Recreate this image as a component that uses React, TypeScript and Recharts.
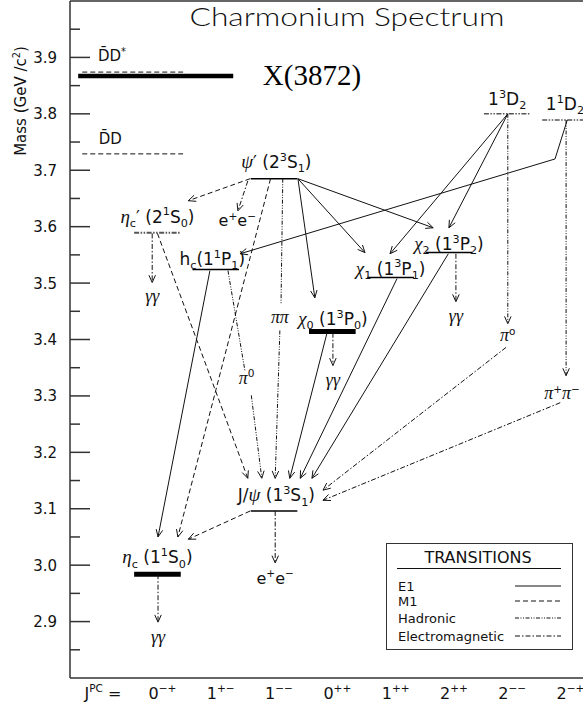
import React from "react";
import { ComposedChart, XAxis, YAxis, ReferenceLine, Scatter, Legend } from "recharts";

type Kind = "E1" | "M1" | "Hadronic" | "Electromagnetic";
type Pt = [number, number]; // [J^PC column, mass GeV]

// x axis: J^PC columns (index 0..7), the first tick is the "J^PC =" caption
const jpcTicks = [-1.02, 0, 1, 2, 3, 4, 5, 6, 7];
const jpcLabels = ["J^{PC} =", "0^{−+}", "1^{+−}", "1^{−−}", "0^{++}", "1^{++}", "2^{++}", "2^{−−}", "2^{−+}"];

// y axis: mass in GeV/c^2
const massTicks = [2.85, 2.9, 2.95, 3.0, 3.05, 3.1, 3.15, 3.2, 3.25, 3.3, 3.35, 3.4, 3.45, 3.5, 3.55, 3.6, 3.65, 3.7, 3.75, 3.8, 3.85, 3.9, 3.95];

// charmonium states
const states = [
  { id: "etac", label: "η_c (1^1S_0)", col: 0, mass: 2.984, labelCol: 0, labelMass: 3.014 },
  { id: "jpsi", label: "J/ψ (1^3S_1)", col: 2, mass: 3.096, labelCol: 2.04, labelMass: 3.124 },
  { id: "chi0", label: "χ_0 (1^3P_0)", col: 3, mass: 3.414, labelCol: 3.01, labelMass: 3.437 },
  { id: "chi1", label: "χ_1 (1^3P_1)", col: 4, mass: 3.51, labelCol: 4.0, labelMass: 3.526 },
  { id: "hc", label: "h_c(1^1P_1)", col: 1, mass: 3.524, labelCol: 0.94, labelMass: 3.543 },
  { id: "chi2", label: "χ_2 (1^3P_2)", col: 5, mass: 3.554, labelCol: 5.0, labelMass: 3.57 },
  { id: "etac2", label: "η_c′ (2^1S_0)", col: 0, mass: 3.589, labelCol: 0, labelMass: 3.618 },
  { id: "psi2", label: "ψ′ (2^3S_1)", col: 2, mass: 3.685, labelCol: 2.04, labelMass: 3.715 },
  { id: "d13", label: "1^3D_2", col: 6, mass: 3.8, labelCol: 6.0, labelMass: 3.827 },
  { id: "d11", label: "1^1D_2", col: 7, mass: 3.789, labelCol: 6.99, labelMass: 3.818 },
];

// open-charm thresholds
const thresholds = [
  { label: "D\u0304D^*", mass: 3.874, from: -1.29, to: 0.44, labelCol: -0.78, labelMass: 3.903 },
  { label: "D\u0304D", mass: 3.729, from: -1.29, to: 0.44, labelCol: -0.81, labelMass: 3.756 },
];

const xState = { label: "X(3872)", mass: 3.867, from: -1.36, to: 1.3, labelCol: 2.65, labelMass: 3.868 };

// transitions, drawn as polylines; arrow at the end unless noArrow
const transitions: { kind: Kind; pts: Pt[]; noArrow?: boolean }[] = [
  { kind: "M1", pts: [[1.59, 3.685], [0.53, 3.646]] },
  { kind: "Electromagnetic", pts: [[1.55, 3.681], [1.38, 3.628]] },
  { kind: "M1", pts: [[1.94, 3.685], [0.35, 3.05]] },
  { kind: "Hadronic", pts: [[2.15, 3.685], [2.12, 3.464]], noArrow: true },
  { kind: "Hadronic", pts: [[2.1, 3.416], [2.02, 3.154]] },
  { kind: "E1", pts: [[2.41, 3.685], [2.7, 3.474]] },
  { kind: "E1", pts: [[2.41, 3.685], [3.56, 3.554]] },
  { kind: "E1", pts: [[2.41, 3.685], [4.73, 3.598]] },
  { kind: "E1", pts: [[7.03, 3.789], [6.82, 3.72], [1.42, 3.552]] },
  { kind: "E1", pts: [[6.01, 3.8], [3.99, 3.552]] },
  { kind: "E1", pts: [[6.01, 3.8], [5.0, 3.598]] },
  { kind: "Hadronic", pts: [[6.01, 3.8], [6.01, 3.428]] },
  { kind: "Electromagnetic", pts: [[5.98, 3.386], [2.84, 3.133]] },
  { kind: "Hadronic", pts: [[7.01, 3.789], [7.01, 3.336]] },
  { kind: "Electromagnetic", pts: [[6.91, 3.288], [2.84, 3.115]] },
  { kind: "Electromagnetic", pts: [[-0.09, 3.588], [-0.09, 3.501]] },
  { kind: "M1", pts: [[0.0, 3.588], [1.55, 3.154]] },
  { kind: "E1", pts: [[0.9, 3.522], [0.01, 3.05]] },
  { kind: "Hadronic", pts: [[1.21, 3.522], [1.5, 3.345]], noArrow: true },
  { kind: "Hadronic", pts: [[1.61, 3.301], [1.79, 3.154]] },
  { kind: "E1", pts: [[2.91, 3.412], [2.27, 3.154]] },
  { kind: "E1", pts: [[4.11, 3.508], [2.45, 3.154]] },
  { kind: "E1", pts: [[4.99, 3.552], [2.65, 3.154]] },
  { kind: "Electromagnetic", pts: [[3.01, 3.412], [3.01, 3.354]] },
  { kind: "Electromagnetic", pts: [[5.12, 3.552], [5.12, 3.467]] },
  { kind: "Electromagnetic", pts: [[2.02, 3.096], [2.02, 3.004]] },
  { kind: "M1", pts: [[1.59, 3.096], [0.53, 3.046]] },
  { kind: "Electromagnetic", pts: [[0.01, 2.984], [0.01, 2.899]] },
];

// decay products
const products = [
  { text: "e^+e^−", col: 1.37, mass: 3.611 },
  { text: "γγ", col: -0.09, mass: 3.476 },
  { text: "ππ", col: 2.1, mass: 3.439 },
  { text: "π^0", col: 1.53, mass: 3.331 },
  { text: "γγ", col: 3.01, mass: 3.327 },
  { text: "γγ", col: 5.12, mass: 3.442 },
  { text: "π^o", col: 6.01, mass: 3.407 },
  { text: "π^+π^−", col: 6.94, mass: 3.304 },
  { text: "e^+e^−", col: 2.02, mass: 2.977 },
  { text: "γγ", col: 0.01, mass: 2.873 },
];

const legendKinds: Kind[] = ["E1", "M1", "Hadronic", "Electromagnetic"];

const SANS = "'DejaVu Sans', sans-serif";
const SERIF = "'Liberation Serif', serif";
const INK = "#111";
const AXIS = "#333";

const dashOf: Record<Kind, string | undefined> = {
  E1: undefined,
  M1: "5 3",
  Hadronic: "4 1.5 1 1.5 1 1.5",
  Electromagnetic: "5 2 1.5 2",
};

const levelStyle: Record<string, { w: number; dash?: string; color?: string }> = {
  etac: { w: 5 },
  chi0: { w: 5 },
  etac2: { w: 2, dash: "5 1.5 1.5 1.5 1.5 1.5", color: "#555" },
  d13: { w: 1.5, dash: "5 1.5 1.5 1.5 1.5 1.5", color: "#555" },
  d11: { w: 1.5, dash: "5 1.5 1.5 1.5 1.5 1.5", color: "#555" },
};

const GREEK = /[ηψχγπ]/;

function richParts(src: string) {
  const raw: { t: string; s: number }[] = [];
  let buf = "";
  let i = 0;
  const flush = () => {
    if (buf) raw.push({ t: buf, s: 0 });
    buf = "";
  };
  while (i < src.length) {
    const ch = src[i];
    if (ch === "^" || ch === "_") {
      flush();
      let content = "";
      if (src[i + 1] === "{") {
        const j = src.indexOf("}", i);
        content = src.slice(i + 2, j);
        i = j + 1;
      } else {
        content = src[i + 1];
        i += 2;
      }
      raw.push({ t: content, s: ch === "^" ? 1 : -1 });
    } else {
      buf += ch;
      i++;
    }
  }
  flush();
  const out: { t: string; s: number; g: boolean }[] = [];
  for (const p of raw) {
    if (p.s !== 0) {
      out.push({ ...p, g: false });
      continue;
    }
    let cur = "";
    let curG = false;
    for (const c of p.t) {
      const g = GREEK.test(c);
      if (cur && g !== curG) {
        out.push({ t: cur, s: 0, g: curG });
        cur = "";
      }
      cur += c;
      curG = g;
    }
    if (cur) out.push({ t: cur, s: 0, g: curG });
  }
  return out;
}

function RichText({ x, y, text, size, anchor = "middle" }: { x: number; y: number; text: string; size: number; anchor?: string }) {
  const parts = richParts(text);
  let off = 0;
  return (
    <text x={x} y={y + size * 0.36} textAnchor={anchor as any} fontSize={size} fontFamily={SANS} fill={INK}>
      {parts.map((p, k) => {
        const target = p.s === 1 ? -0.42 * size : p.s === -1 ? 0.26 * size : 0;
        const dy = target - off;
        off = target;
        return (
          <tspan
            key={k}
            dy={dy}
            fontSize={p.s ? size * 0.66 : p.g ? size * 1.12 : size}
            fontFamily={p.g ? SERIF : undefined}
            fontStyle={p.g ? "italic" : undefined}
          >
            {p.t}
          </tspan>
        );
      })}
    </text>
  );
}

function Segment(props: any) {
  const { x1, y1, x2, y2, stroke, strokeWidth, strokeDasharray, arrow } = props;
  const a = Math.atan2(y2 - y1, x2 - x1);
  const L = 8;
  const s = 0.42;
  return (
    <g>
      <line x1={x1} y1={y1} x2={x2} y2={y2} stroke={stroke} strokeWidth={strokeWidth} strokeDasharray={strokeDasharray} />
      {arrow && (
        <path
          d={`M${x2 - L * Math.cos(a - s)},${y2 - L * Math.sin(a - s)}L${x2},${y2}L${x2 - L * Math.cos(a + s)},${y2 - L * Math.sin(a + s)}`}
          fill="none"
          stroke={stroke}
          strokeWidth={1}
        />
      )}
    </g>
  );
}

function MassTick(props: any) {
  const { x, y, payload } = props;
  const v = payload.value as number;
  const major = Math.abs(v * 10 - Math.round(v * 10)) < 1e-6;
  return (
    <g>
      <line x1={x} y1={y} x2={x + (major ? 20 : 10)} y2={y} stroke={AXIS} strokeWidth={1.5} />
      {major && (
        <text x={x - 13} y={y + 5.5} textAnchor="end" fontSize={15} fontFamily={SANS} fill={INK}>
          {v.toFixed(1)}
        </text>
      )}
    </g>
  );
}

function JpcTick(props: any) {
  const { x, y, payload } = props;
  const i = jpcTicks.indexOf(payload.value);
  return <RichText x={x + 5} y={y + 15} text={jpcLabels[i] ?? ""} size={16} />;
}

function LabelShape(props: any) {
  const { cx, cy, payload } = props;
  return <RichText x={cx} y={cy} text={payload.text} size={payload.size} />;
}

function SerifLabel(props: any) {
  const { cx, cy, payload } = props;
  return (
    <text x={cx} y={cy + 10} textAnchor="middle" fontSize={29} fontFamily={SERIF} fill="#000">
      {payload.text}
    </text>
  );
}

function TransitionsLegend() {
  const rows = [43, 58, 75, 93];
  return (
    <svg width={187} height={107} style={{ display: "block" }}>
      <rect x={0.5} y={0.5} width={186} height={106} fill="#fff" stroke={AXIS} />
      <text x={92} y={20} textAnchor="middle" fontSize={16} fontFamily={SANS} fill={INK}>
        TRANSITIONS
      </text>
      <line x1={11} x2={175} y1={25.5} y2={25.5} stroke={INK} />
      {legendKinds.map((k, i) => (
        <g key={k}>
          <text x={12} y={rows[i] + 5} fontSize={13} fontWeight={500} fontFamily={SANS} fill={INK}>
            {k}
          </text>
          <line x1={129} x2={175} y1={rows[i]} y2={rows[i]} stroke={INK} strokeDasharray={dashOf[k]} />
        </g>
      ))}
    </svg>
  );
}

export default function App() {
  const labelData = [
    ...states.map((s) => ({ x: s.labelCol, y: s.labelMass, text: s.label, size: 17 })),
    ...thresholds.map((t) => ({ x: t.labelCol, y: t.labelMass, text: t.label, size: 15 })),
    ...products.map((p) => ({ x: p.col, y: p.mass, text: p.text, size: 16 })),
  ];
  const xLabelData = [{ x: xState.labelCol, y: xState.labelMass, text: xState.label }];

  return (
    <div style={{ position: "absolute", left: 0, top: 0, width: 583, height: 704, background: "#fff", overflow: "hidden" }}>
      <ComposedChart width={583} height={704} margin={{ top: 1, right: 0, bottom: 0, left: 0 }}>
        <XAxis
          type="number"
          dataKey="x"
          domain={[-1.5, 7.3]}
          allowDataOverflow
          ticks={jpcTicks}
          interval={0}
          height={26}
          tickSize={0}
          tickMargin={0}
          tickLine={false}
          axisLine={{ stroke: AXIS, strokeWidth: 1.5 }}
          tick={<JpcTick />}
        />
        <YAxis
          type="number"
          dataKey="y"
          domain={[2.8, 4.0]}
          allowDataOverflow
          ticks={massTicks}
          interval={0}
          width={70}
          tickSize={0}
          tickMargin={0}
          tickLine={false}
          axisLine={{ stroke: AXIS, strokeWidth: 1.5 }}
          tick={<MassTick />}
        />
        <ReferenceLine y={4.0} stroke={AXIS} strokeWidth={1.5} ifOverflow="visible" />

        {thresholds.map((t) => (
          <ReferenceLine
            key={t.label}
            segment={[{ x: t.from, y: t.mass }, { x: t.to, y: t.mass }]}
            stroke={INK}
            strokeWidth={1}
            strokeDasharray="5 3"
            ifOverflow="visible"
          />
        ))}
        <ReferenceLine
          segment={[{ x: xState.from, y: xState.mass }, { x: xState.to, y: xState.mass }]}
          stroke="#000"
          strokeWidth={4.5}
          ifOverflow="visible"
        />

        {states.map((s) => {
          const st = levelStyle[s.id] ?? { w: 1.5 };
          return (
            <ReferenceLine
              key={s.id}
              segment={[{ x: s.col - 0.4, y: s.mass }, { x: s.col + 0.4, y: s.mass }]}
              stroke={st.color ?? "#000"}
              strokeWidth={st.w}
              strokeDasharray={st.dash}
              ifOverflow="visible"
            />
          );
        })}

        {transitions.flatMap((t, ti) =>
          t.pts.slice(1).map((p, k) => {
            const a = t.pts[k];
            const last = k === t.pts.length - 2;
            return (
              <ReferenceLine
                key={`${ti}-${k}`}
                segment={[{ x: a[0], y: a[1] }, { x: p[0], y: p[1] }]}
                stroke={INK}
                strokeWidth={1}
                strokeDasharray={dashOf[t.kind]}
                ifOverflow="visible"
                shape={(sp: any) => <Segment {...sp} arrow={last && !t.noArrow} />}
              />
            );
          })
        )}

        <Scatter data={labelData} dataKey="y" isAnimationActive={false} shape={<LabelShape />} />
        <Scatter data={xLabelData} dataKey="y" isAnimationActive={false} shape={<SerifLabel />} />

        <Legend
          layout="vertical"
          align="center"
          verticalAlign="middle"
          wrapperStyle={{ left: 386, top: 543, width: 187, height: 107 }}
          content={() => <TransitionsLegend />}
        />
      </ComposedChart>

      <svg width={583} height={704} style={{ position: "absolute", left: 0, top: 0, pointerEvents: "none" }}>
        <text
          x={347}
          y={26}
          textAnchor="middle"
          fontSize={25}
          fontFamily="Lato, 'DejaVu Sans', sans-serif"
          fontWeight={300}
          fill={INK}
          textLength={315}
          lengthAdjust="spacingAndGlyphs"
        >
          Charmonium Spectrum
        </text>
        <g transform="translate(21,101) rotate(-90)">
          <RichText x={0} y={0} text="Mass (GeV /c^2)" size={15} />
        </g>
      </svg>
    </div>
  );
}
